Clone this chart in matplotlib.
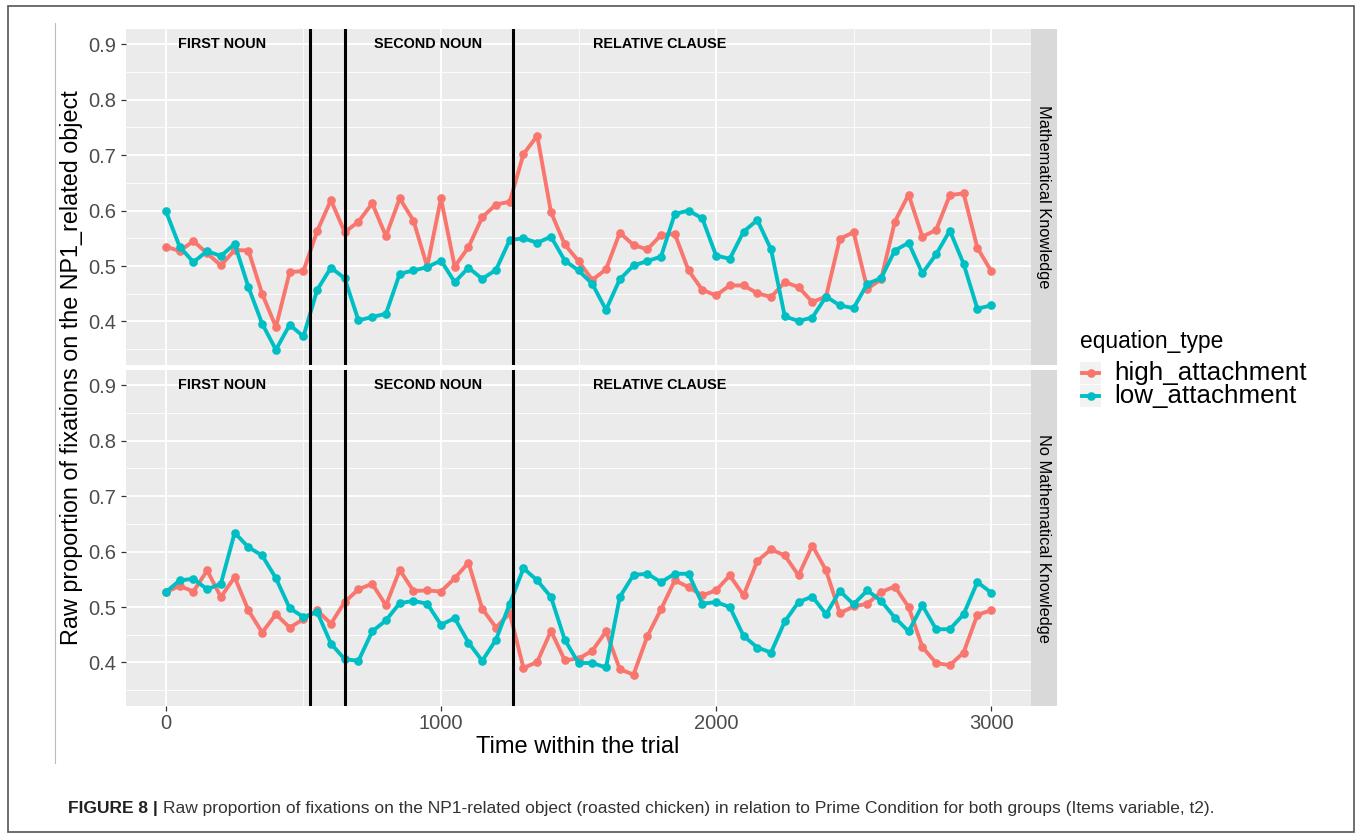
import numpy as np
import matplotlib
matplotlib.use("Agg")
import matplotlib.pyplot as plt
from matplotlib.lines import Line2D
from matplotlib.patches import Rectangle

plt.rcParams['font.family'] = ['Liberation Sans', 'DejaVu Sans']

# ---------------- data ----------------
time_ms = list(range(0, 3001, 50))

math_high = [0.535, 0.527, 0.545, 0.523, 0.501, 0.529, 0.528, 0.450, 0.390, 0.489,
             0.491, 0.563, 0.619, 0.561, 0.580, 0.613, 0.554, 0.622, 0.582, 0.499,
             0.622, 0.499, 0.534, 0.588, 0.611, 0.616, 0.702, 0.735, 0.597, 0.539,
             0.509, 0.475, 0.494, 0.560, 0.538, 0.530, 0.556, 0.558, 0.492, 0.457,
             0.447, 0.465, 0.465, 0.451, 0.444, 0.471, 0.462, 0.435, 0.445, 0.549,
             0.561, 0.459, 0.476, 0.580, 0.629, 0.553, 0.565, 0.628, 0.631, 0.533,
             0.491]
math_low = [0.599, 0.535, 0.507, 0.527, 0.518, 0.540, 0.462, 0.396, 0.349, 0.394,
            0.373, 0.457, 0.497, 0.478, 0.402, 0.408, 0.414, 0.486, 0.492, 0.498,
            0.510, 0.471, 0.497, 0.477, 0.493, 0.547, 0.550, 0.542, 0.553, 0.510,
            0.492, 0.468, 0.421, 0.476, 0.501, 0.509, 0.517, 0.594, 0.600, 0.586,
            0.519, 0.513, 0.562, 0.583, 0.530, 0.409, 0.401, 0.407, 0.445, 0.429,
            0.424, 0.468, 0.478, 0.528, 0.542, 0.487, 0.521, 0.564, 0.504, 0.423,
            0.429]
nomath_high = [0.527, 0.538, 0.528, 0.566, 0.518, 0.554, 0.494, 0.454, 0.487, 0.463,
               0.478, 0.494, 0.470, 0.509, 0.532, 0.542, 0.503, 0.567, 0.529, 0.530,
               0.528, 0.552, 0.580, 0.497, 0.463, 0.489, 0.390, 0.401, 0.457, 0.404,
               0.407, 0.421, 0.456, 0.388, 0.378, 0.447, 0.496, 0.548, 0.536, 0.521,
               0.530, 0.557, 0.521, 0.583, 0.604, 0.593, 0.557, 0.611, 0.566, 0.489,
               0.501, 0.506, 0.527, 0.537, 0.500, 0.428, 0.399, 0.395, 0.418, 0.486,
               0.494]
nomath_low = [0.527, 0.548, 0.551, 0.532, 0.542, 0.634, 0.608, 0.593, 0.552, 0.498,
              0.482, 0.491, 0.434, 0.406, 0.403, 0.456, 0.476, 0.507, 0.511, 0.506,
              0.468, 0.480, 0.436, 0.403, 0.441, 0.506, 0.570, 0.548, 0.518, 0.441,
              0.399, 0.399, 0.391, 0.518, 0.558, 0.560, 0.545, 0.560, 0.560, 0.506,
              0.509, 0.500, 0.448, 0.427, 0.418, 0.474, 0.509, 0.519, 0.487, 0.529,
              0.505, 0.530, 0.511, 0.481, 0.456, 0.503, 0.460, 0.460, 0.487, 0.545,
              0.526]

panels = ["Mathematical Knowledge", "No Mathematical Knowledge"]
series_names = ["high_attachment", "low_attachment"]
boundaries_ms = [525, 650, 1262]
region_labels = ["FIRST NOUN", "SECOND NOUN", "RELATIVE CLAUSE"]
region_label_x = [204, 953, 1796]
region_label_y = 0.9
y_ticks = [0.4, 0.5, 0.6, 0.7, 0.8, 0.9]
x_ticks = [0, 1000, 2000, 3000]

panel_data = [(math_high, math_low), (nomath_high, nomath_low)]
colors = ["#F8766D", "#00BFC4"]

# ---------------- figure ----------------
W, H = 1362, 833
fig = plt.figure(figsize=(W / 100, H / 100), dpi=100)
fig.patch.set_facecolor("white")

def fr(x0, y0, x1, y1):
    return [x0 / W, 1 - y1 / H, (x1 - x0) / W, (y1 - y0) / H]

# frame around the whole figure
fig.add_artist(Rectangle((8 / W, 1 - 832 / H), (1354 - 8) / W, (832 - 6) / H,
                         transform=fig.transFigure, fill=False,
                         edgecolor="#555555", lw=1.2))
fig.add_artist(Line2D([55 / W, 55 / W], [1 - 23 / H, 1 - 763 / H],
                      transform=fig.transFigure, color="#BBBBBB", lw=0.8))

panel_boxes = [(126, 29, 1031, 365), (126, 370, 1031, 706)]
xlim = (-145, 3145)
ylim = (0.3215, 0.9276)

for i, (box, name, (hi, lo)) in enumerate(zip(panel_boxes, panels, panel_data)):
    ax = fig.add_axes(fr(*box))
    ax.set_facecolor("#EBEBEB")
    ax.set_xlim(*xlim)
    ax.set_ylim(*ylim)
    for s in ax.spines.values():
        s.set_visible(False)
    ax.set_yticks(y_ticks)
    ax.set_yticks([0.35, 0.45, 0.55, 0.65, 0.75, 0.85], minor=True)
    ax.set_xticks(x_ticks)
    ax.set_xticks([500, 1500, 2500], minor=True)
    ax.grid(True, which="major", color="white", lw=1.3)
    ax.grid(True, which="minor", color="white", lw=0.6)
    ax.set_axisbelow(True)
    ax.tick_params(axis="both", which="major", length=3.5, width=0.9,
                   color="#333333", labelcolor="#4D4D4D", labelsize=14.5)
    ax.tick_params(axis="both", which="minor", length=0)
    ax.set_yticklabels([f"{v:.1f}" for v in y_ticks])
    if i == 0:
        ax.tick_params(axis="x", which="major", length=0, labelbottom=False)
    else:
        ax.set_xticklabels([str(v) for v in x_ticks])
        ax.tick_params(axis="x", pad=2)

    for vals, c in zip((hi, lo), colors):
        ax.plot(time_ms, vals, color=c, lw=2.8, marker="o", ms=5.2,
                solid_joinstyle="round", zorder=3)
    for b in boundaries_ms:
        ax.axvline(b, color="black", lw=2.2, zorder=4)
    for lab, lx in zip(region_labels, region_label_x):
        ax.text(lx, region_label_y, lab, ha="center", va="center",
                fontsize=10.4, fontweight="bold", color="black", zorder=5)

    # strip
    sx0, sy0, sx1, sy1 = 1031, box[1], 1057, box[3]
    sax = fig.add_axes(fr(sx0, sy0, sx1, sy1))
    sax.set_facecolor("#D9D9D9")
    sax.set_xticks([]); sax.set_yticks([])
    for s in sax.spines.values():
        s.set_visible(False)
    sax.text(0.5, 0.5, name, rotation=-90, ha="center", va="center",
             fontsize=11.8, color="black",
             transform=sax.transAxes)

# axis titles
fig.text(72 / W, 1 - 368 / H, "Raw proportion of fixations on the NP1_related object",
         rotation=90, ha="center", va="center", fontsize=16.8, color="black")
fig.text(578 / W, 1 - 747 / H, "Time within the trial", ha="center", va="center",
         fontsize=17, color="black")

# legend
fig.text(1080 / W, 1 - 341 / H, "equation_type", ha="left", va="center",
         fontsize=16.4, color="black")
for j, (lab, c) in enumerate(zip(series_names, colors)):
    yc = 373 + 23 * j
    fig.add_artist(Rectangle((1080 / W, 1 - (yc + 11) / H), 21 / W, 22 / H,
                             transform=fig.transFigure, facecolor="#F2F2F2",
                             edgecolor="none"))
    fig.add_artist(Line2D([1082 / W, 1099 / W], [1 - yc / H, 1 - yc / H],
                          transform=fig.transFigure, color=c, lw=2.8))
    fig.add_artist(Line2D([1090.5 / W], [1 - yc / H], transform=fig.transFigure,
                          color=c, marker="o", ms=5.2, lw=0))
    fig.text(1114 / W, 1 - yc / H, lab, ha="left", va="center",
             fontsize=18.7, color="black")

# caption
cap_bold = fig.text(68 / W, 1 - 808 / H, "FIGURE 8 |", ha="left", va="center",
                    fontsize=12.5, fontweight="bold", color="#222222")
fig.canvas.draw()
bb = cap_bold.get_window_extent()
fig.text((bb.x1 + 5) / W, 1 - 808 / H,
         "Raw proportion of fixations on the NP1-related object (roasted chicken) in relation to Prime Condition for both groups (Items variable, t2).",
         ha="left", va="center", fontsize=12.5, color="#333333")

fig.savefig("out.png", dpi=100, facecolor="white")
